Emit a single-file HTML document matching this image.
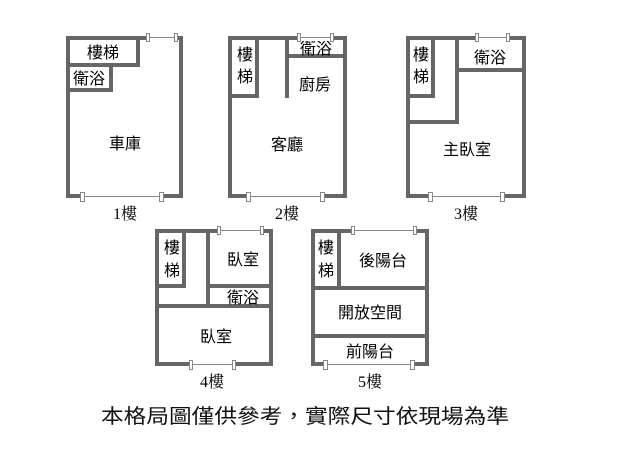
<!DOCTYPE html>
<html><head><meta charset="utf-8"><style>
html,body{margin:0;padding:0;background:#fff;}
svg{display:block;}
.w{fill:none;stroke:#666;stroke-width:4;stroke-linecap:square;}
.t{font-family:"Liberation Sans","Noto Sans CJK TC",sans-serif;font-size:16px;fill:#000;text-anchor:middle;}
.f{font-family:"Liberation Serif","Noto Serif CJK SC",serif;font-size:16px;fill:#000;text-anchor:middle;}
.c{font-family:"Liberation Sans","Noto Sans CJK TC",sans-serif;font-size:20px;fill:#111;text-anchor:middle;}
.gap{fill:#fff;stroke:none;}
.wl{stroke:#888;stroke-width:1;}
.cap{fill:#fff;stroke:#888;stroke-width:1;}
</style></head><body>
<svg width="638" height="460" viewBox="0 0 638 460" xmlns="http://www.w3.org/2000/svg">
<defs>
<g id="hw"></g>
</defs>
<!-- Floor 1 -->
<rect class="w" x="68" y="38" width="113" height="158"/>
<polyline class="w" points="68,65 138,65 138,38"/>
<polyline class="w" points="68,90 111,90 111,65"/>
<text class="t" x="103" y="58">樓梯</text>
<text class="t" x="89" y="84">衛浴</text>
<text class="t" x="125" y="149">車庫</text>
<text class="f" x="125" y="219">1樓</text>
<!-- Floor 2 -->
<rect class="w" x="230" y="38" width="115" height="158"/>
<polyline class="w" points="230,96 257,96 257,38"/>
<line class="w" x1="287" y1="38" x2="287" y2="96"/>
<line class="w" x1="287" y1="56" x2="345" y2="56"/>
<text class="t" x="245" y="60">樓</text>
<text class="t" x="245" y="82">梯</text>
<text class="t" x="316" y="54">衛浴</text>
<text class="t" x="315" y="90">廚房</text>
<text class="t" x="287" y="150">客廳</text>
<text class="f" x="287" y="219">2樓</text>
<!-- Floor 3 -->
<rect class="w" x="408" y="38" width="116" height="158"/>
<polyline class="w" points="408,96 433,96 433,38"/>
<line class="w" x1="457" y1="38" x2="457" y2="122"/>
<line class="w" x1="408" y1="122" x2="457" y2="122"/>
<line class="w" x1="457" y1="70" x2="524" y2="70"/>
<text class="t" x="421" y="60">樓</text>
<text class="t" x="421" y="82">梯</text>
<text class="t" x="490" y="63">衛浴</text>
<text class="t" x="467" y="155">主臥室</text>
<text class="f" x="466" y="219">3樓</text>
<!-- Floor 4 -->
<rect class="w" x="157" y="231" width="114" height="133"/>
<polyline class="w" points="157,286 184,286 184,231"/>
<line class="w" x1="208" y1="231" x2="208" y2="306"/>
<line class="w" x1="208" y1="286" x2="271" y2="286"/>
<line class="w" x1="157" y1="306" x2="271" y2="306"/>
<text class="t" x="172" y="253">樓</text>
<text class="t" x="172" y="276">梯</text>
<text class="t" x="243" y="265">臥室</text>
<text class="t" x="243" y="303">衛浴</text>
<text class="t" x="216" y="342">臥室</text>
<text class="f" x="212" y="387">4樓</text>
<!-- Floor 5 -->
<rect class="w" x="313" y="231" width="114" height="133"/>
<line class="w" x1="339" y1="231" x2="339" y2="288"/>
<line class="w" x1="313" y1="288" x2="427" y2="288"/>
<line class="w" x1="313" y1="336" x2="427" y2="336"/>
<text class="t" x="326" y="253">樓</text>
<text class="t" x="326" y="276">梯</text>
<text class="t" x="383" y="266">後陽台</text>
<text class="t" x="370" y="318">開放空間</text>
<text class="t" x="370" y="357">前陽台</text>
<text class="f" x="370" y="387">5樓</text>
<!-- windows -->
<g>
<!-- F1 top 148-176 y38 -->
<rect class="gap" x="149" y="35" width="26" height="6"/><line class="wl" x1="148" y1="37.5" x2="176" y2="37.5"/>
<rect class="cap" x="146.5" y="33.5" width="3" height="8"/><rect class="cap" x="174.5" y="33.5" width="3" height="8"/>
<!-- F1 bottom 82-162 y196 -->
<rect class="gap" x="84" y="193" width="77" height="6"/><line class="wl" x1="82" y1="196.5" x2="162" y2="196.5"/>
<rect class="cap" x="80.5" y="192.5" width="4" height="9"/><rect class="cap" x="159.5" y="192.5" width="4" height="9"/>
<!-- F2 top 298-332 -->
<rect class="gap" x="299" y="35" width="32" height="6"/><line class="wl" x1="298" y1="37.5" x2="332" y2="37.5"/>
<rect class="cap" x="297.5" y="33.5" width="3" height="8"/><rect class="cap" x="330.5" y="33.5" width="3" height="8"/>
<!-- F2 bottom 248-323 -->
<rect class="gap" x="250" y="193" width="72" height="6"/><line class="wl" x1="248" y1="196.5" x2="323" y2="196.5"/>
<rect class="cap" x="246.5" y="192.5" width="4" height="9"/><rect class="cap" x="320.5" y="192.5" width="4" height="9"/>
<!-- F3 top 476-508 -->
<rect class="gap" x="477" y="35" width="30" height="6"/><line class="wl" x1="476" y1="37.5" x2="508" y2="37.5"/>
<rect class="cap" x="475.5" y="33.5" width="3" height="8"/><rect class="cap" x="506.5" y="33.5" width="3" height="8"/>
<!-- F3 bottom 430-503 -->
<rect class="gap" x="432" y="193" width="70" height="6"/><line class="wl" x1="430" y1="196.5" x2="503" y2="196.5"/>
<rect class="cap" x="428.5" y="192.5" width="4" height="9"/><rect class="cap" x="500.5" y="192.5" width="4" height="9"/>
<!-- F4 top 218-262 -->
<rect class="gap" x="219" y="228" width="42" height="6"/><line class="wl" x1="218" y1="230.5" x2="262" y2="230.5"/>
<rect class="cap" x="217.5" y="226.5" width="3" height="8"/><rect class="cap" x="260.5" y="226.5" width="3" height="8"/>
<!-- F4 bottom 190-234 -->
<rect class="gap" x="191" y="361" width="42" height="6"/><line class="wl" x1="190" y1="364.5" x2="234" y2="364.5"/>
<rect class="cap" x="189.5" y="360.5" width="3" height="9"/><rect class="cap" x="232.5" y="360.5" width="3" height="9"/>
<!-- F5 top 352-415 -->
<rect class="gap" x="353" y="228" width="61" height="6"/><line class="wl" x1="352" y1="230.5" x2="415" y2="230.5"/>
<rect class="cap" x="351.5" y="226.5" width="3" height="8"/><rect class="cap" x="413.5" y="226.5" width="3" height="8"/>
<!-- F5 bottom 325-413 -->
<rect class="gap" x="327" y="361" width="85" height="6"/><line class="wl" x1="325" y1="364.5" x2="413" y2="364.5"/>
<rect class="cap" x="323.5" y="360.5" width="4" height="9"/><rect class="cap" x="410.5" y="360.5" width="4" height="9"/>
</g>
<text class="c" x="305" y="423" textLength="408" lengthAdjust="spacingAndGlyphs">本格局圖僅供參考，實際尺寸依現場為準</text>
</svg>
</body></html>
